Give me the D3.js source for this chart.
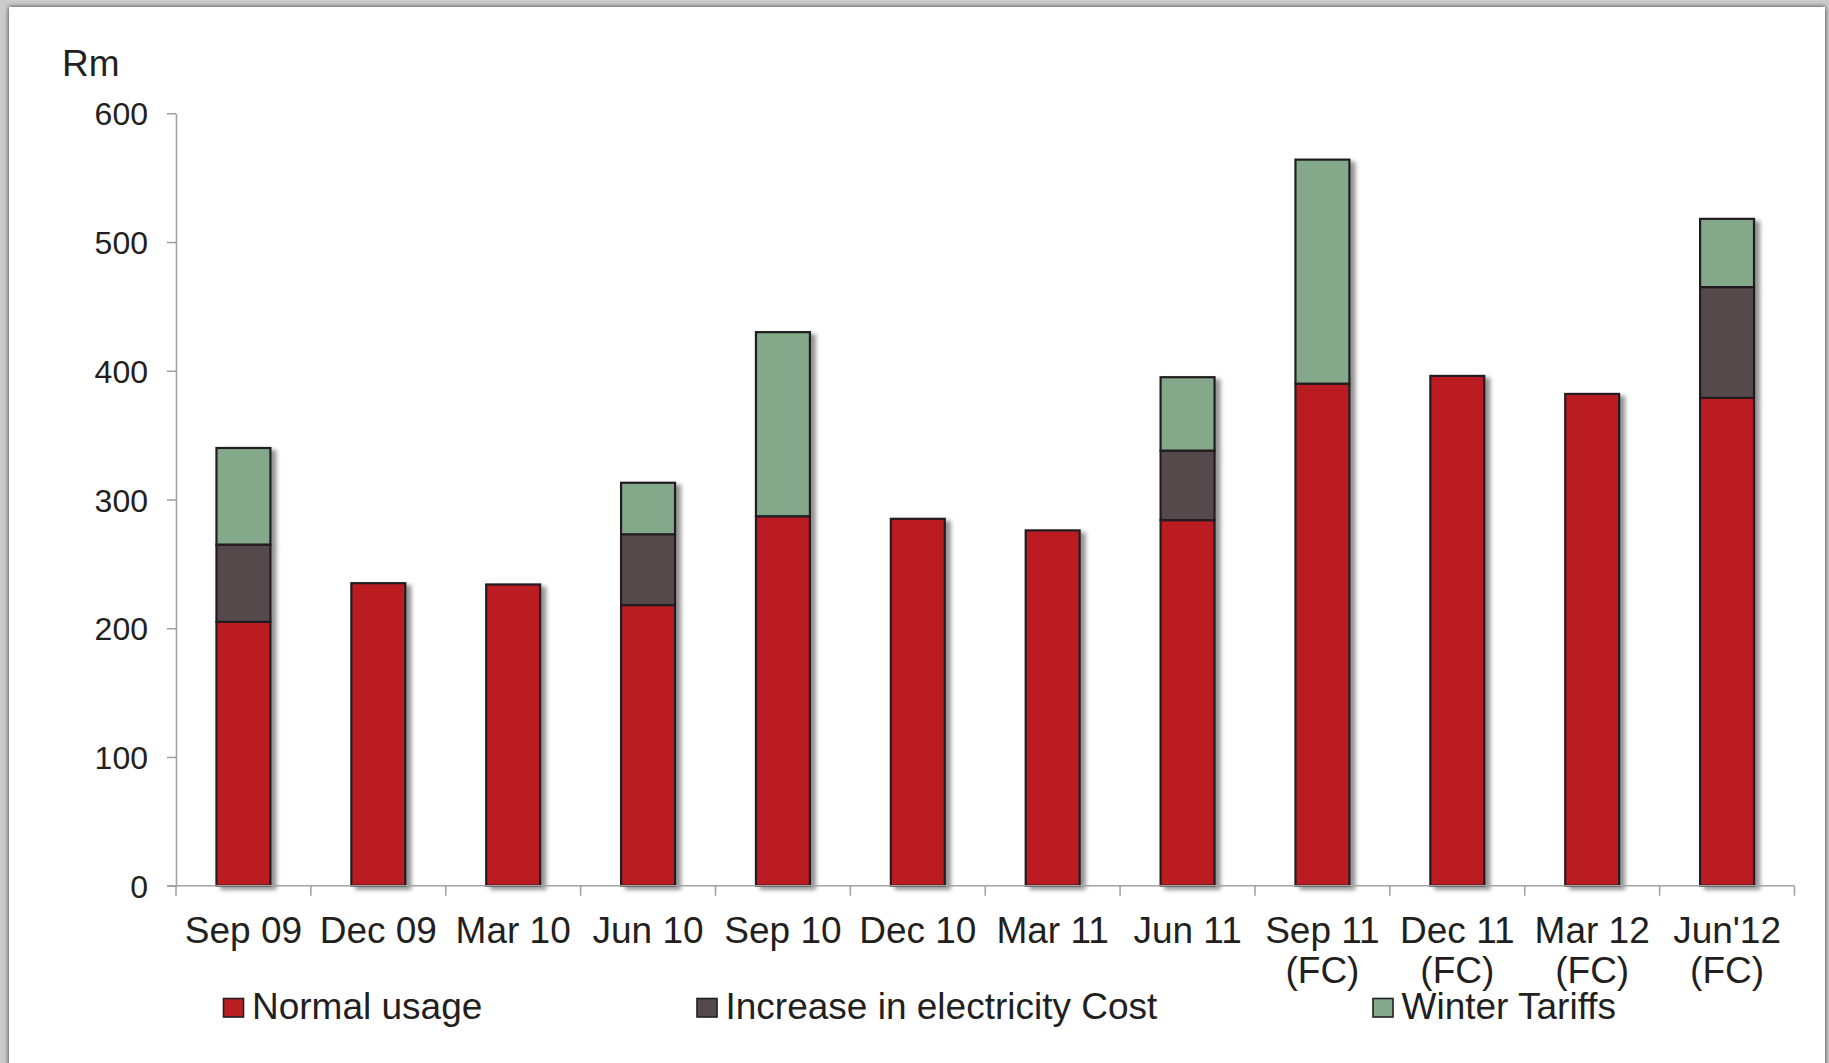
<!DOCTYPE html>
<html>
<head>
<meta charset="utf-8">
<script src="https://cdn.jsdelivr.net/npm/d3@7"></script>
<style>
  html, body { margin: 0; padding: 0; background: #c6c6c6; }
  svg { display: block; }
  text { font-family: "Liberation Sans", Arial, Helvetica, sans-serif; fill: #231f20; }
</style>
</head>
<body>
<svg id="chart" width="1829" height="1063"></svg>
<script>
// Quarterly electricity spend, Rm (stacked by component)
const categories = ["Sep 09", "Dec 09", "Mar 10", "Jun 10", "Sep 10", "Dec 10",
                    "Mar 11", "Jun 11", "Sep 11\n(FC)", "Dec 11\n(FC)", "Mar 12\n(FC)", "Jun'12\n(FC)"];
const normalUsage         = [205, 235, 234, 218, 287, 285, 276, 284, 390, 396, 382, 379];
const electricityIncrease = [ 60,   0,   0,  55,   0,   0,   0,  54,   0,   0,   0,  86];
const winterTariffs       = [ 75,   0,   0,  40, 143,   0,   0,  57, 174,   0,   0,  53];
const seriesKeys   = ["normal", "increase", "winter"];
const seriesNames  = ["Normal usage", "Increase in electricity Cost", "Winter Tariffs"];
const seriesColors = ["#bb1e23", "#544a4b", "#83a98a"];
const yTicks = [0, 100, 200, 300, 400, 500, 600];
const unitLabel = "Rm";

const W = 1829, H = 1063;
const plot = { left: 176, right: 1794.5, top: 113.3, bottom: 885.7 };
const legendX = [223.5, 697, 1373];
const ink = "#231f20", axisColor = "#a3a3a3";

const svg = d3.select("#chart");
const defs = svg.append("defs");

// panel shadow
const pf = defs.append("filter").attr("id", "panelShadow")
  .attr("x", "-5%").attr("y", "-5%").attr("width", "110%").attr("height", "110%");
pf.append("feDropShadow").attr("dx", 0).attr("dy", 0).attr("stdDeviation", 2.6)
  .attr("flood-color", "#000").attr("flood-opacity", 0.75);

// bar shadow
const bf = defs.append("filter").attr("id", "barShadow")
  .attr("x", "-20%").attr("y", "-10%").attr("width", "150%").attr("height", "120%");
bf.append("feDropShadow").attr("dx", 5).attr("dy", 3).attr("stdDeviation", 2.2)
  .attr("flood-color", "#000").attr("flood-opacity", 0.42);

svg.append("rect").attr("width", W).attr("height", H).attr("fill", "#cbcbcb");
svg.append("rect").attr("x", 9).attr("y", 7).attr("width", 1816).attr("height", H + 20)
  .attr("fill", "#fff").attr("filter", "url(#panelShadow)");

const rows = categories.map((c, i) => ({
  category: c,
  normal: normalUsage[i],
  increase: electricityIncrease[i],
  winter: winterTariffs[i]
}));

const x = d3.scaleBand().domain(categories).range([plot.left, plot.right]).padding(0);
const y = d3.scaleLinear().domain([0, 600]).range([plot.bottom, plot.top]);
const color = d3.scaleOrdinal().domain(seriesKeys).range(seriesColors);

const stacked = d3.stack().keys(seriesKeys)(rows);
const barW = x.bandwidth() * 0.4;

// bars
const barsG = svg.append("g").attr("filter", "url(#barShadow)");
stacked.forEach(layer => {
  barsG.append("g")
    .selectAll("rect")
    .data(layer.filter(d => d[1] - d[0] > 0))
    .join("rect")
    .attr("x", d => x(d.data.category) + (x.bandwidth() - barW) / 2)
    .attr("width", barW)
    .attr("y", d => y(d[1]))
    .attr("height", d => y(d[0]) - y(d[1]))
    .attr("fill", color(layer.key))
    .attr("stroke", ink)
    .attr("stroke-width", 2.2);
});

// y axis
const yAxis = svg.append("g").attr("transform", `translate(${plot.left},0)`)
  .call(d3.axisLeft(y).tickValues(yTicks).tickSize(9).tickSizeOuter(0).tickPadding(19));
yAxis.select(".domain").attr("stroke", axisColor).attr("stroke-width", 1.6);
yAxis.selectAll(".tick line").attr("stroke", axisColor).attr("stroke-width", 1.6);
yAxis.selectAll(".tick text")
  .attr("font-size", 32).attr("fill", ink)
  .attr("font-family", "'Liberation Sans', Arial, sans-serif")
  .attr("dy", "0.36em");

// x axis line and boundary ticks
const xAxis = svg.append("g");
xAxis.append("line")
  .attr("x1", plot.left - 9).attr("x2", plot.right)
  .attr("y1", y(0)).attr("y2", y(0))
  .attr("stroke", axisColor).attr("stroke-width", 1.6);
const boundaries = categories.map(c => x(c)).concat([x.range()[1]]);
xAxis.selectAll("line.tick")
  .data(boundaries)
  .join("line")
  .attr("class", "tick")
  .attr("x1", d => d).attr("x2", d => d)
  .attr("y1", y(0)).attr("y2", y(0) + 10)
  .attr("stroke", axisColor).attr("stroke-width", 1.6);

// category labels
const labels = xAxis.selectAll("text.cat")
  .data(categories)
  .join("text")
  .attr("class", "cat")
  .attr("text-anchor", "middle")
  .attr("font-size", 37)
  .attr("x", d => x(d) + x.bandwidth() / 2)
  .attr("y", y(0) + 56.8);
labels.each(function (d) {
  const t = d3.select(this);
  const cx = x(d) + x.bandwidth() / 2;
  d.split("\n").forEach((line, i) => {
    t.append("tspan").attr("x", cx).attr("dy", i === 0 ? 0 : 40.5).text(line);
  });
});

// unit label
svg.append("text").attr("x", 62).attr("y", 76).attr("font-size", 37).text(unitLabel);

// legend
const legend = svg.append("g");
seriesKeys.forEach((k, i) => {
  const g = legend.append("g").attr("transform", `translate(${legendX[i]},0)`);
  g.append("rect").attr("x", 0).attr("y", 998.5).attr("width", 20).attr("height", 18.5)
    .attr("fill", color(k)).attr("stroke", ink).attr("stroke-width", 1.6);
  g.append("text").attr("x", 28.5).attr("y", 1019).attr("font-size", 37).text(seriesNames[i]);
});
</script>
</body>
</html>
